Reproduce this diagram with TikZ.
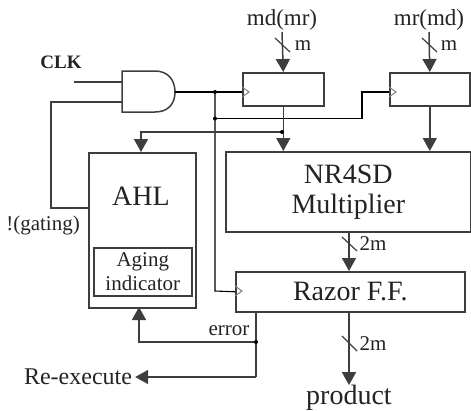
\documentclass[tikz,border=0pt]{standalone}
\usepackage{fontspec}
\setmainfont{Liberation Serif}
\usepackage{xcolor}
\usepackage{tikz}
\usetikzlibrary{
  arrows.meta
}
\definecolor{WireGray}{RGB}{62, 62, 62}
\definecolor{LabelDark}{RGB}{35, 35, 35}
\tikzset{
  wire/.style={draw=WireGray, line width=1.5pt},
  thinwire/.style={draw=black, line width=1.1pt},
  feed/.style={wire, -{Triangle[length=13pt, width=14pt]}},
  blockbox/.style={draw=WireGray, line width=1.6pt, fill=white, anchor=north west, inner sep=0pt, align=center, text=LabelDark},
  clockmark/.style={draw=gray, line width=1pt},
  slashmark/.style={draw=WireGray, line width=1.2pt},
  joint/.style={circle, fill=black, inner sep=0pt, minimum size=4pt},
  biglabel/.style={font=\fontsize{28}{33}\selectfont, text=LabelDark, inner sep=0pt},
  smalllabel/.style={font=\fontsize{21}{24}\selectfont, text=LabelDark, inner sep=0pt}
}
\begin{document}
\begin{tikzpicture}[x=1pt, y=-1pt]
    \useasboundingbox (0,0) rectangle (471,410);

    % gate and registers
    \draw[wire] (122,71) -- (155,71) .. controls (168,71) and (175,80) .. (175,92) .. controls (175,104) and (168,112) .. (155,112) -- (122,112) -- cycle;
    \node[blockbox, minimum width=81pt, minimum height=33pt] (regA) at (242,72) {};
    \node[blockbox, minimum width=80pt, minimum height=33pt] (regB) at (389,72) {};
    \node[blockbox, minimum width=245pt, minimum height=80pt, font=\fontsize{28}{30}\selectfont] (mult) at (225,151) {NR4SD\\Multiplier};
    \node[blockbox, minimum width=229pt, minimum height=40pt, font=\fontsize{28}{33}\selectfont] (razor) at (235,271) {Razor F.F.};
    \node[blockbox, minimum width=107pt, minimum height=155pt] (ahl) at (88,152) {};
    \node[biglabel] (ahltext) at (141,196) {AHL};
    \node[blockbox, minimum width=98pt, minimum height=48pt, font=\fontsize{21}{24}\selectfont] (aging) at (93,247) {Aging\\indicator};

    % labels
    \node[font=\fontsize{19}{22}\selectfont\bfseries, text=LabelDark, inner sep=0pt] (clk) at (61,62) {CLK};
    \node[smalllabel] (gating) at (43,225) {!(gating)};
    \node[smalllabel] (err) at (229,331) {error};
    \node[font=\fontsize{24}{28}\selectfont, text=LabelDark, inner sep=0pt] (redo) at (78,377) {Re-execute};
    \node[biglabel] (prod) at (349,398) {product};
    \node[font=\fontsize{23}{26}\selectfont, text=LabelDark, inner sep=0pt] (mdin) at (282,20) {md(mr)};
    \node[font=\fontsize{23}{26}\selectfont, text=LabelDark, inner sep=0pt] (mrin) at (429,20) {mr(md)};

    % free ends and branch points
    \coordinate (clkin) at (74,82);
    \coordinate (gateA) at (122,82);
    \coordinate (gateB) at (122,102);
    \coordinate (gateout) at (175,92);
    \coordinate (mdtop) at (282,32);
    \coordinate (mrtop) at (429,32);
    \coordinate (split) at (215,92);
    \coordinate (splitb) at (215,118.5);
    \coordinate (tapA) at (282,132);
    \coordinate (tapB) at (256,342);
    \coordinate (errend) at (256,377);

    % connectors
    \draw[wire] (clkin) -- (gateA);
    \draw[wire] (ahl.west |- 0,208) -- (51,208) -- (51,102) -- (gateB);
    \draw[thinwire] (gateout) -- (split) -- (regA.west |- split);
    \draw[thinwire] (split) -- (215,291) -- (razor.west);
    \draw[thinwire] (splitb) -- (362,118.5) -- (362,92) -- (regB.west |- split);
    \draw[feed] (mdtop) -- (regA.north);
    \draw[feed] (mrtop) -- (regB.north);
    \draw[feed] (regA.south) -- (regA.south |- mult.north);
    \draw[feed] (regB.south) -- (regB.south |- mult.north);
    \draw[feed] (tapA) -- (141,132) -- (ahl.north -| 141,0);
    \draw[feed] (349,231) -- (349,271);
    \draw[feed] (349,311) -- (prod.north -| 349,0);
    \draw[wire] (256,311) -- (tapB) -- (errend);
    \draw[feed, shorten >=3pt] (errend) -- (redo.east);
    \draw[feed] (tapB) -- (139,342) -- (139,307);

    % dots
    \node[joint] (dotA) at (split) {};
    \node[joint] (dotB) at (splitb) {};
    \node[joint] (dotC) at (tapA) {};
    \node[joint] (dotD) at (tapB) {};

    % clock marks
    \draw[clockmark] (242,87) -- (249,92) -- (242,97);
    \draw[clockmark] (389,87) -- (396,92) -- (389,97);
    \draw[clockmark] (235,286) -- (242,291) -- (235,296);

    % bus marks
    \draw[slashmark] (275,38) -- (290,52);
    \draw[slashmark] (422,38) -- (437,52);
    \draw[slashmark] (342,237) -- (357,251);
    \draw[slashmark] (342,336) -- (357,351);
    \node[smalllabel] (widA) at (303,46) {m};
    \node[smalllabel] (widB) at (449,46) {m};
    \node[smalllabel] (widC) at (373,244) {2m};
    \node[smalllabel] (widD) at (373,344) {2m};
\end{tikzpicture}
\end{document}
